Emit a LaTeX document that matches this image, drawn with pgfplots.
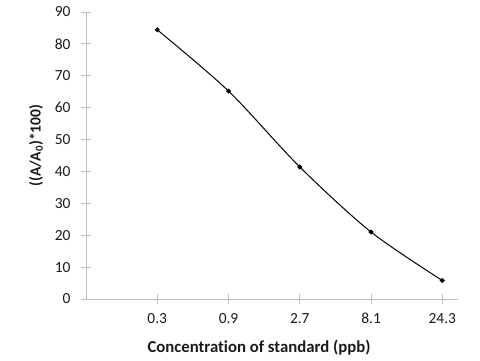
\documentclass[border=0pt]{standalone}
\usepackage{pgfplots}
\pgfplotsset{compat=1.18}
\usepackage{fontspec}
\setmainfont{Carlito}[Ligatures=NoCommon]
\definecolor{axgray}{HTML}{BFBFBF}
\definecolor{txt}{HTML}{1A1A1A}
\begin{document}
\begin{tikzpicture}[x=1bp,y=1bp]
\useasboundingbox (0,0) rectangle (480,360);
\begin{axis}[
  at={(86bp,61bp)}, anchor=south west,
  scale only axis, width=372bp, height=287bp,
  xmin=0, xmax=5.22, ymin=0, ymax=90,
  axis x line*=bottom, axis y line*=left,
  axis line style={axgray, line width=0.8bp},
  tick style={axgray, line width=0.8bp},
  tick align=center, major tick length=10bp,
  xtick={1,2,3,4,5},
  xticklabels={0.3,0.9,2.7,8.1,24.3},
  ytick={0,10,...,90},
  /pgf/number format/assume math mode=true,
  ticklabel style={font=\fontsize{15.5}{18}\selectfont, text=txt},
  xticklabel style={yshift=-5bp, text height=10.5bp, text depth=0bp},
  yticklabel style={xshift=-7bp},
  xlabel={\textbf{Concentration of standard (ppb)}},
  ylabel={\textbf{((A/A\textsubscript{0})*100)}},
  xlabel style={font=\fontsize{16.8}{19}\selectfont, text=txt, at={(axis description cs:0.465,0)}, anchor=center, yshift=-49bp},
  ylabel style={font=\fontsize{15.6}{18}\selectfont, text=txt, at={(axis description cs:0,0.535)}, anchor=center, yshift=50bp},
  clip=false,
]
\addplot[black, line width=1bp, smooth, tension=0.5, mark=*, mark size=1.9bp, mark options={fill=black}]
  coordinates {(1,84.4) (2,65.2) (3,41.4) (4,21.0) (5,5.8)};
\end{axis}
\end{tikzpicture}
\end{document}
